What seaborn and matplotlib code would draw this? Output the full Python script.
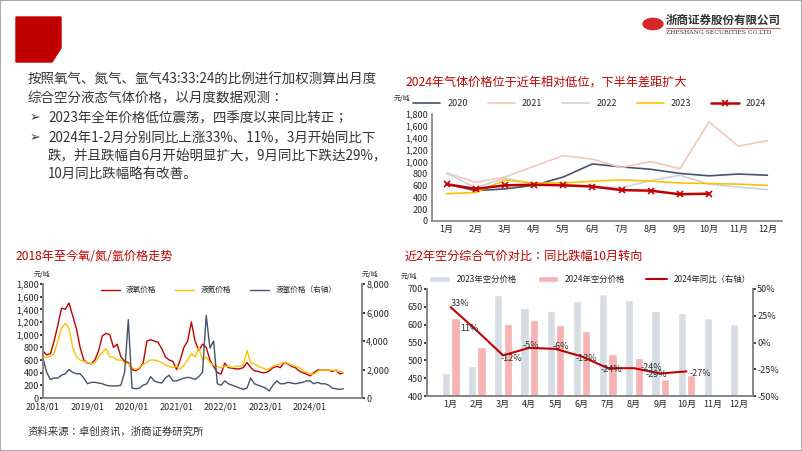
import numpy as np
import pandas as pd
import matplotlib.pyplot as plt
import matplotlib.patches as mpatches
from matplotlib.ticker import FuncFormatter
import seaborn as sns

# ---------- data ----------
months = ["1月", "2月", "3月", "4月", "5月", "6月", "7月", "8月", "9月", "10月", "11月", "12月"]

price_2020 = [620, 510, 540, 600, 740, 960, 910, 870, 800, 760, 790, 770]
price_2021 = [810, 650, 740, 920, 1100, 1040, 900, 1000, 880, 1670, 1260, 1350]
price_2022 = [800, 560, 720, 620, 620, 580, 560, 680, 770, 620, 570, 530]
price_2023 = [460, 480, 690, 640, 640, 670, 690, 670, 640, 630, 620, 600]
price_2024 = [620, 540, 600, 610, 600, 580, 520, 510, 450, 460]

bar_2023 = [465, 483, 683, 648, 637, 665, 686, 670, 637, 632, 618, 601]
bar_2024 = [620, 538, 601, 614, 600, 581, 519, 507, 447, 460]
yoy_2024 = [33, 11, -12, -5, -6, -13, -24, -24, -29, -27]

# monthly 2018/01 - 2024/10
oxygen = [740, 680, 700, 900, 1150, 1420, 1400, 1500, 1300, 1100, 800, 600,
          550, 540, 600, 750, 980, 1020, 1000, 800, 850, 650, 580, 560,
          450, 430, 470, 550, 900, 920, 900, 880, 780, 650, 600, 580,
          450, 600, 800, 900, 1200, 900, 750, 850, 800, 600, 500, 400,
          380, 550, 480, 470, 460, 460, 480, 560, 480, 430, 420, 400,
          400, 430, 480, 500, 480, 560, 540, 500, 480, 430, 400, 380,
          350, 400, 440, 440, 440, 440, 420, 440, 380, 400]
nitrogen = [650, 640, 660, 700, 900, 1100, 1180, 1100, 800, 650, 600, 580,
            560, 540, 560, 650, 720, 780, 650, 640, 600, 600, 560, 540,
            480, 450, 480, 530, 560, 600, 600, 580, 560, 520, 500, 480,
            500, 460, 520, 600, 700, 650, 800, 600, 650, 560, 520, 500,
            480, 500, 500, 480, 500, 500, 520, 750, 560, 540, 500, 480,
            450, 460, 500, 520, 540, 560, 550, 520, 500, 480, 440, 400,
            380, 380, 420, 440, 440, 440, 440, 430, 420, 400]
argon = [2800, 1800, 1300, 1400, 1400, 1600, 1700, 2000, 1800, 1700, 1700, 1400,
         1000, 1100, 1100, 1050, 1000, 900, 850, 850, 850, 900, 1800, 5500,
         700, 650, 700, 900, 1000, 1500, 1200, 1100, 1050, 1400, 1600, 1200,
         1200, 1300, 1400, 1450, 1400, 1300, 1500, 1800, 5800, 3500, 4000, 1000,
         900, 1200, 1000, 900, 800, 700, 600, 700, 1400, 1000, 900, 800,
         700, 500, 900, 1200, 1000, 1000, 1100, 1050, 1000, 1050, 1100, 1200,
         1200, 1000, 1100, 1000, 1000, 900, 700, 650, 600, 650]
year_ticks = ["2018/01", "2019/01", "2020/01", "2021/01", "2022/01", "2023/01", "2024/01"]

RED = "#C00000"
YEL = "#FFC000"
SLATE = "#44546A"
FONT = "Noto Sans CJK JP"

sns.set_theme(style="white")
plt.rcParams.update({"font.family": FONT, "axes.unicode_minus": False,
                     "xtick.labelsize": 6.5, "ytick.labelsize": 6.5})

fig = plt.figure(figsize=(8.02, 4.51), dpi=100)
W, H = 802, 451

def box(x0, y0, x1, y1):
    return [x0 / W, 1 - y1 / H, (x1 - x0) / W, (y1 - y0) / H]

comma = FuncFormatter(lambda v, p: f"{v:,.0f}")

# ---------- slide decoration ----------
fig.add_artist(mpatches.Rectangle((0, 0), 1, 1, transform=fig.transFigure, fill=False,
                                  edgecolor="#999999", lw=1.2))
fig.add_artist(mpatches.Polygon([(16 / W, 1 - 17 / H), (61 / W, 1 - 17 / H), (61 / W, 1 - 48 / H),
                                 (52 / W, 1 - 62 / H), (16 / W, 1 - 62 / H)],
                                transform=fig.transFigure, color=RED))
fig.add_artist(mpatches.Circle((653 / W, 1 - 24 / H), 10 / W, transform=fig.transFigure, color="#D7262B"))
fig.text(666 / W, 1 - 20 / H, "浙商证券股份有限公司", fontsize=8.3, fontweight="bold", color="#333333", va="center")
fig.text(666 / W, 1 - 32 / H, "ZHESHANG SECURITIES CO.LTD", fontsize=4.3, color="#333333",
         va="center", family="DejaVu Serif")
fig.add_artist(plt.Line2D([666 / W, 780 / W], [1 - 28 / H, 1 - 28 / H], transform=fig.transFigure,
                          color="#D7262B", lw=0.6))

lines = [(28, 80, "按照氧气、氮气、氩气43:33:24的比例进行加权测算出月度"),
         (28, 98, "综合空分液态气体价格，以月度数据观测："),
         (48, 118, "2023年全年价格低位震荡，四季度以来同比转正；"),
         (48, 138, "2024年1-2月分别同比上涨33%、11%，3月开始同比下"),
         (48, 156, "跌，并且跌幅自6月开始明显扩大，9月同比下跌达29%，"),
         (48, 174, "10月同比跌幅略有改善。")]
for x, y, s in lines:
    fig.text(x / W, 1 - y / H, s, fontsize=9.7, color="#333333", va="center")
for y in (118, 138):
    fig.text(30 / W, 1 - y / H, "➢", fontsize=9, color="#333333", va="center", family="DejaVu Sans")

fig.text(405 / W, 1 - 82 / H, "2024年气体价格位于近年相对低位，下半年差距扩大", fontsize=8.7, color=RED, va="center")
fig.text(15 / W, 1 - 256 / H, "2018年至今氧/氮/氩价格走势", fontsize=8.7, color=RED, va="center")
fig.text(405 / W, 1 - 256 / H, "近2年空分综合气价对比：同比跌幅10月转向", fontsize=8.7, color=RED, va="center")
fig.text(28 / W, 1 - 432 / H, "资料来源：卓创资讯，浙商证券研究所", fontsize=7.5, color="#333333",
         style="italic", va="center")

# ---------- top right: yearly lines ----------
ax1 = fig.add_axes(box(432, 114, 782, 221))
series = [("2020", price_2020, SLATE, None), ("2021", price_2021, "#F4C7B8", None),
          ("2022", price_2022, "#C9D3E0", None), ("2023", price_2023, YEL, None),
          ("2024", price_2024, RED, "x")]
for name, vals, c, mk in series:
    sns.lineplot(x=np.arange(len(vals)), y=vals, ax=ax1, color=c, lw=1.8 if mk else 1.2,
                 marker=mk, markersize=4, markeredgewidth=1.2, markeredgecolor=c, label=name)
ax1.set_xlim(-0.5, 11.5)
ax1.set_ylim(0, 1800)
ax1.set_yticks(range(0, 1801, 200))
ax1.yaxis.set_major_formatter(comma)
ax1.set_xticks(range(12))
ax1.set_xticklabels(months)
ax1.legend(loc="lower center", bbox_to_anchor=(0.45, 0.98), ncol=5, frameon=False, fontsize=6.5,
           handlelength=3, columnspacing=2.2)
ax1.text(-0.11, 1.12, "元/吨", transform=ax1.transAxes, fontsize=5, style="italic")
for s in ("top", "right"):
    ax1.spines[s].set_visible(False)
for s in ("left", "bottom"):
    ax1.spines[s].set_color("#888888")
ax1.tick_params(length=2, pad=1)

# ---------- bottom left: daily trends ----------
ax2 = fig.add_axes(box(43, 284, 362, 398))
t = np.arange(len(oxygen))
sns.lineplot(x=t, y=oxygen, ax=ax2, color=RED, lw=1, label="液氧价格")
sns.lineplot(x=t, y=nitrogen, ax=ax2, color=YEL, lw=1, label="液氮价格")
ax2r = ax2.twinx()
sns.lineplot(x=t, y=argon, ax=ax2r, color=SLATE, lw=1, label="液氩价格（右轴）")
ax2.set_ylim(0, 1800)
ax2.set_yticks(range(0, 1801, 200))
ax2.yaxis.set_major_formatter(comma)
ax2r.set_ylim(0, 8000)
ax2r.set_yticks(range(0, 8001, 2000))
ax2r.yaxis.set_major_formatter(comma)
ax2.set_xlim(0, 86)
ax2.set_xticks(range(0, 73, 12))
ax2.set_xticklabels(year_ticks)
h1, l1 = ax2.get_legend_handles_labels()
h2, l2 = ax2r.get_legend_handles_labels()
ax2r.get_legend().remove()
ax2.legend(h1 + h2, l1 + l2, loc="upper center", bbox_to_anchor=(0.55, 1.04), ncol=3,
           frameon=False, fontsize=5.5, handlelength=2.5, columnspacing=2.5)
ax2.text(-0.03, 1.06, "元/吨", transform=ax2.transAxes, fontsize=5, style="italic")
ax2.text(1.0, 1.06, "元/吨", transform=ax2.transAxes, fontsize=5, style="italic")
for a in (ax2, ax2r):
    a.spines["top"].set_visible(False)
    a.tick_params(length=2, pad=1)
    for s in ("left", "right", "bottom"):
        a.spines[s].set_color("#888888")

# ---------- bottom right: bars + yoy ----------
ax3 = fig.add_axes(box(427, 289, 753, 396))
df = pd.DataFrame({
    "month": months * 2,
    "price": bar_2023 + bar_2024 + [np.nan, np.nan],
    "series": ["2023年空分价格"] * 12 + ["2024年空分价格"] * 12,
})
sns.barplot(data=df, x="month", y="price", hue="series", ax=ax3, order=months,
            palette=["#D5DCE4", "#F7B3B3"], width=0.72, gap=0.12, saturation=1)
ax3.set_ylim(400, 700)
ax3.set_yticks(range(400, 701, 50))
ax3.set_xlabel("")
ax3.set_ylabel("")
ax3r = ax3.twinx()
sns.lineplot(x=np.arange(len(yoy_2024)), y=yoy_2024, ax=ax3r, color=RED, lw=1.5, label="2024年同比（右轴）")
ax3r.set_ylim(-50, 50)
ax3r.set_yticks(range(-50, 51, 25))
ax3r.yaxis.set_major_formatter(FuncFormatter(lambda v, p: f"{v:.0f}%"))
offsets = [(0.35, 3), (-0.3, 2), (0.3, -3), (0.05, 2), (0.2, 2), (0.2, -2),
           (0.15, -1), (0.65, 1), (-0.15, -1), (0.55, -2)]
for i, v in enumerate(yoy_2024):
    dx, dy = offsets[i]
    ax3r.text(i + dx, v + dy, f"{v}%", fontsize=6.5, color="#333333", ha="center", va="center")
h1, l1 = ax3.get_legend_handles_labels()
h2, l2 = ax3r.get_legend_handles_labels()
ax3r.get_legend().remove()
ax3.legend(h1 + h2, l1 + l2, loc="lower center", bbox_to_anchor=(0.5, 0.98), ncol=3, frameon=False,
           fontsize=6, handlelength=2.5, columnspacing=2.5)
ax3.text(-0.08, 1.09, "元/吨", transform=ax3.transAxes, fontsize=5, style="italic")
for a in (ax3, ax3r):
    a.spines["top"].set_visible(False)
    a.tick_params(length=2, pad=1)
    for s in ("left", "right", "bottom"):
        a.spines[s].set_color("#888888")

plt.savefig("out.png", dpi=100, facecolor="white")
